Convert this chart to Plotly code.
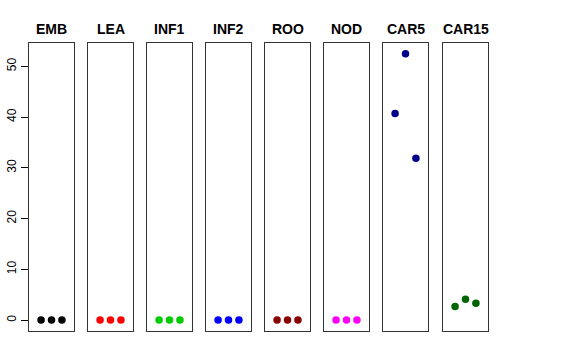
import plotly.graph_objects as go

categories = ["EMB", "LEA", "INF1", "INF2", "ROO", "NOD", "CAR5", "CAR15"]
replicates = [1, 2, 3]
values = {
    "EMB": [0, 0, 0],
    "LEA": [0, 0, 0],
    "INF1": [0, 0, 0],
    "INF2": [0, 0, 0],
    "ROO": [0, 0, 0],
    "NOD": [0, 0, 0],
    "CAR5": [40.7, 52.5, 31.9],
    "CAR15": [2.7, 4.1, 3.3],
}
colors = ["#000000", "#FF0000", "#00CD00", "#0000FF", "#8B0000", "#FF00FF", "#00008B", "#006400"]
y_ticks = [0, 10, 20, 30, 40, 50]

W, H = 576, 360
lefts = [29, 88, 147, 206, 265, 324, 383, 443]
pw = 45
top, bottom = 43, 331

fig = go.Figure()
layout = dict(
    width=W, height=H,
    margin=dict(l=0, r=0, t=0, b=0),
    plot_bgcolor="white", paper_bgcolor="white",
    showlegend=False,
    font=dict(family="Liberation Sans, Arial, sans-serif", color="black"),
    annotations=[],
)
for i, cat in enumerate(categories):
    n = i + 1
    xa = "x" if n == 1 else f"x{n}"
    ya = "y" if n == 1 else f"y{n}"
    fig.add_trace(go.Scatter(
        x=replicates, y=values[cat], mode="markers",
        marker=dict(color=colors[i], size=7.5, line=dict(width=0)),
        xaxis=xa, yaxis=ya, hoverinfo="skip",
    ))
    xd = [lefts[i] / W, (lefts[i] + pw) / W]
    yd = [1 - bottom / H, 1 - top / H]
    layout[f"xaxis{n if n > 1 else ''}"] = dict(
        domain=xd, range=[-0.16, 4.16], showgrid=False, zeroline=False,
        showticklabels=False, ticks="", showline=True, mirror=True,
        linecolor="#333333", linewidth=1, anchor=ya, fixedrange=True,
    )
    ydict = dict(
        domain=yd, range=[-2.15, 54.6], showgrid=False, zeroline=False,
        showline=True, mirror=True, linecolor="#333333", linewidth=1,
        anchor=xa, fixedrange=True,
    )
    if n == 1:
        ydict.update(tickvals=y_ticks, ticktext=[str(v) for v in y_ticks],
                     ticks="outside", ticklen=7, tickcolor="black",
                     tickangle=-90, tickfont=dict(size=12, color="black"),
                     showticklabels=True)
    else:
        ydict.update(showticklabels=False, ticks="")
    layout[f"yaxis{n if n > 1 else ''}"] = ydict
    layout["annotations"].append(dict(
        text=f"<b>{cat}</b>", x=(lefts[i] + pw / 2) / W, y=1 - 29 / H,
        xref="paper", yref="paper", showarrow=False,
        font=dict(size=14, color="black"), xanchor="center", yanchor="middle",
    ))

fig.update_layout(**layout)
fig.write_html("out.html", config={"displayModeBar": False},
               post_script="document.body.style.margin='0';")
